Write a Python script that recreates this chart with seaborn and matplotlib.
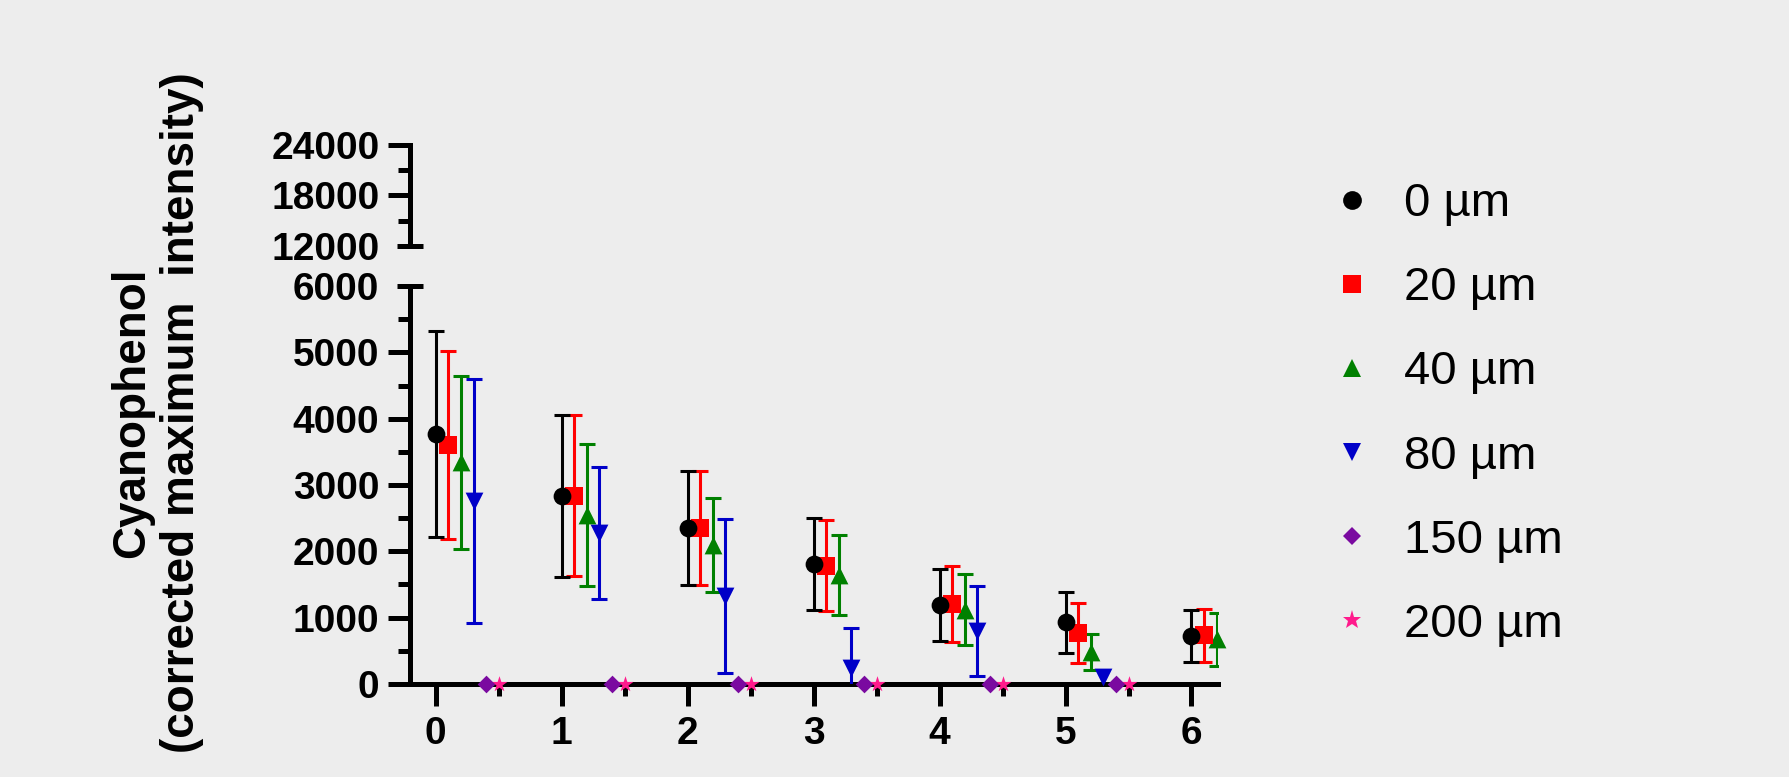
import matplotlib
matplotlib.use("Agg")
import matplotlib.pyplot as plt
import matplotlib.transforms as mtransforms
from matplotlib.lines import Line2D
from matplotlib.ticker import MultipleLocator, FixedLocator
import numpy as np
import pandas as pd
import seaborn as sns

# ---- data: mean +/- SD of corrected maximum intensity per depth ----
groups = [0, 1, 2, 3, 4, 5, 6]
group_labels = ["0", "1", "2", "3", "4", "5", "6"]

mean_0 = [3770, 2835, 2345, 1810, 1192, 928, 722]
sd_0 = [1555, 1216, 860, 697, 547, 455, 387]
mean_20 = [3600, 2840, 2345, 1782, 1204, 772, 735]
sd_20 = [1420, 1216, 860, 684, 570, 450, 400]
mean_40 = [3340, 2548, 2095, 1643, 1118, 482, 672]
sd_40 = [1310, 1066, 708, 603, 535, 266, 405]
mean_80 = [2760, 2280, 1330, 245, 795, 105]
sd_80 = [1842, 998, 1163, 604, 678, None]   # last bar hidden behind its marker
mean_150 = [0, 0, 0, 0, 0, 0]
mean_200 = [0, 0, 0, 0, 0, 0]

series_labels = ["0 µm", "20 µm", "40 µm", "80 µm", "150 µm", "200 µm"]
series_means = [mean_0, mean_20, mean_40, mean_80, mean_150, mean_200]
series_sds = [sd_0, sd_20, sd_40, sd_80, None, None]

lower_ticks = [0, 1000, 2000, 3000, 4000, 5000, 6000]
upper_ticks = [12000, 18000, 24000]

# ---- styling ----
colors = ["#000000", "#ff0000", "#008000", "#0000c8", "#7a0aa0", "#ff1a8c"]
markers = ["o", "s", "^", "v", "D", "*"]
marker_pt = [12.8, 12.5, 12.8, 12.8, 9.0, 12.0]
legend_pt = [13.5, 13.5, 13.5, 13.5, 9.5, 14.2]
step = 0.1
BG = "#ededed"

sns.set_theme(style="ticks")
plt.rcParams["font.family"] = ["Liberation Sans", "DejaVu Sans"]
plt.rcParams["text.color"] = "black"
plt.rcParams["axes.labelcolor"] = "black"

fig = plt.figure(figsize=(17.89, 7.77), dpi=100, facecolor=BG)
ax = fig.add_axes([0.2292, 0.1197, 0.4516, 0.5122])
ax_top = fig.add_axes([0.2292, 0.6838, 0.4516, 0.1296])

# long table for plotting
rows = []
for i, (lab, means, sds) in enumerate(zip(series_labels, series_means, series_sds)):
    for g, m in zip(groups, means):
        sd = np.nan
        if sds is not None and sds[g] is not None:
            sd = float(sds[g])
        rows.append({"series": lab, "x": g + i * step, "mean": m, "sd": sd})
df = pd.DataFrame(rows)

for i, lab in enumerate(series_labels):
    sub = df[df["series"] == lab]
    bars = sub.dropna(subset=["sd"])
    if len(bars):
        ax.errorbar(bars["x"], bars["mean"], yerr=bars["sd"], fmt="none",
                    ecolor=colors[i], elinewidth=2.2, capsize=6, capthick=2.2,
                    zorder=10 - i)
    sns.scatterplot(data=sub, x="x", y="mean", ax=ax, marker=markers[i],
                    color=colors[i], s=marker_pt[i] ** 2, linewidth=0,
                    legend=False, zorder=20 - i, clip_on=False)

lw = 3.6
for a in (ax, ax_top):
    a.set_facecolor("none")
    a.set_xlim(-0.204, 6.21)
    for side in ("top", "right"):
        a.spines[side].set_visible(False)
    a.spines["left"].set_linewidth(lw)
    a.spines["bottom"].set_linewidth(lw)
    a.spines["left"].set_color("black")
    a.spines["bottom"].set_color("black")
    a.set_xlabel("")
    a.set_ylabel("")

# lower segment
ax.set_ylim(0, 6000)
ax.set_xticks(groups)
ax.set_xticklabels(group_labels, fontweight="bold")
ax.xaxis.set_minor_locator(MultipleLocator(0.5))
ax.set_yticks(lower_ticks)
ax.set_yticklabels([str(t) for t in lower_ticks], fontweight="bold")
ax.yaxis.set_minor_locator(MultipleLocator(500))
ax.tick_params(which="major", length=16, width=lw, direction="out",
               labelsize=28, color="black", labelcolor="black")
ax.tick_params(axis="x", which="major", pad=7)
ax.tick_params(axis="y", which="major", pad=6)
ax.tick_params(which="minor", length=8.6, width=lw, direction="out", color="black")

# upper segment
ax_top.set_ylim(12000, 24000)
ax_top.spines["bottom"].set_visible(False)
ax_top.set_xticks([])
ax_top.xaxis.set_minor_locator(FixedLocator([]))
ax_top.set_yticks(upper_ticks)
ax_top.set_yticklabels([str(t) for t in upper_ticks], fontweight="bold")
ax_top.yaxis.set_minor_locator(MultipleLocator(3000))
ax_top.tick_params(axis="y", which="major", length=16, width=lw, direction="out",
                   labelsize=28, pad=6, color="black", labelcolor="black")
ax_top.tick_params(axis="y", which="minor", length=8.6, width=lw, direction="out",
                   color="black")

# axis-break marks replace the ticks at the segment ends
ax.yaxis.get_major_ticks()[-1].tick1line.set_visible(False)
ax_top.yaxis.get_major_ticks()[0].tick1line.set_visible(False)
for a, yv in ((ax, ax.get_ylim()[1]), (ax_top, ax_top.get_ylim()[0])):
    tr = mtransforms.blended_transform_factory(a.transAxes, a.transData)
    a.plot([0], [yv], marker="_", markersize=19, mew=lw, color="black",
           transform=tr, clip_on=False, zorder=30)

fig.text(0.0878, 0.4685, "Cyanophenol\n(corrected maximum  intensity)",
         rotation=90, ha="center", va="center", fontsize=33, color="black",
         fontweight="bold", linespacing=1.2, multialignment="center")

handles = [Line2D([], [], linestyle="none", marker=markers[i], color=colors[i],
                  markersize=legend_pt[i], markeredgewidth=0)
           for i in range(len(series_labels))]
leg = fig.legend(handles, series_labels, loc="center left",
                 bbox_to_anchor=(1328 / 1789, 1 - 414.5 / 777), frameon=False,
                 fontsize=34, handlelength=1.0, handletextpad=0.6,
                 labelspacing=0.85, borderpad=0, borderaxespad=0)
for t in leg.get_texts():
    t.set_color("black")

fig.savefig("out.png", dpi=100, facecolor=BG)
